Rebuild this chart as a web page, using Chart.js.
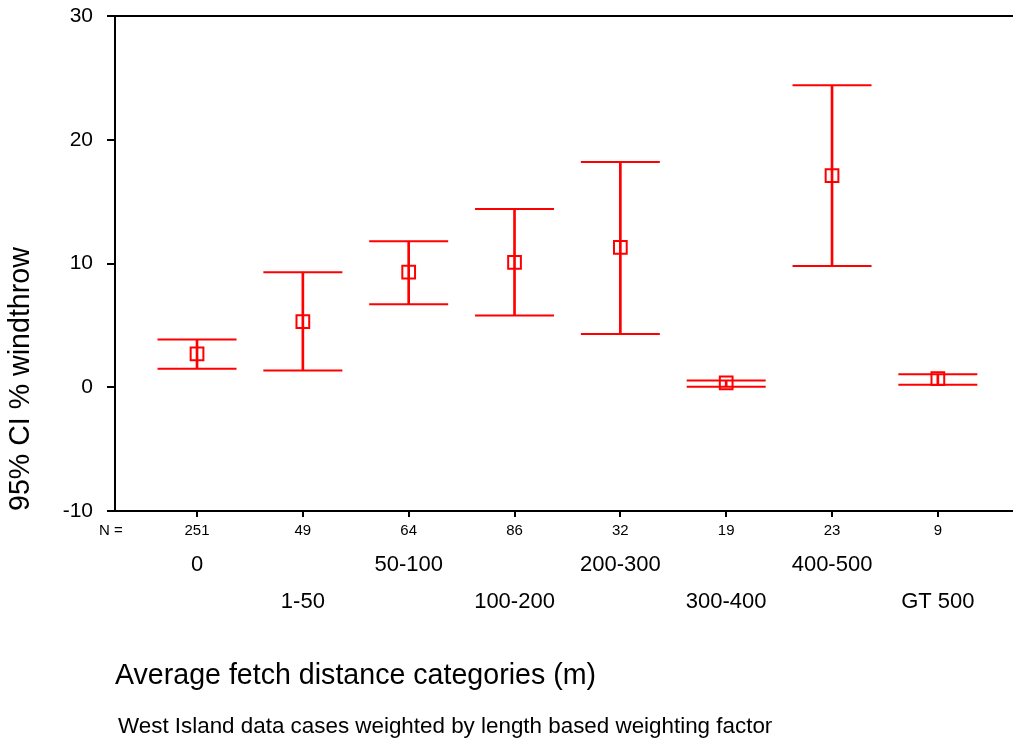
<!DOCTYPE html>
<html>
<head>
<meta charset="utf-8">
<title>95% CI % windthrow by fetch distance</title>
<script src="https://cdn.jsdelivr.net/npm/chart.js@4.4.1/dist/chart.umd.min.js"></script>
<style>
  html, body { margin: 0; padding: 0; background: #fff; }
  canvas { display: block; }
</style>
</head>
<body>
<canvas id="ci-chart" width="1013" height="747"></canvas>
<script>
// fetch distance groups, case counts and 95% CI of windthrow %
const categories = ['0', '1-50', '50-100', '100-200', '200-300', '300-400', '400-500', 'GT 500'];
const caseCounts = [251, 49, 64, 86, 32, 19, 23, 9];
const meanValues = [2.7, 5.3, 9.3, 10.1, 11.3, 0.35, 17.1, 0.7];
const lowerCI = [1.5, 1.35, 6.7, 5.8, 4.3, 0.05, 9.8, 0.2];
const upperCI = [3.85, 9.3, 11.8, 14.4, 18.2, 0.55, 24.4, 1.05];
const yTicks = [-10, 0, 10, 20, 30];
const footnote = 'West Island data cases weighted by length based weighting factor';

const FONT = '"Liberation Sans", Arial, sans-serif';
const RED = '#ff0000';
const X_MIN = -0.775;
const X_MAX = 7.71;

Chart.defaults.font.family = FONT;
Chart.defaults.color = '#000';

// fixed box sizes, no extra room for overhanging tick labels
function fixBox(size) {
  return (s) => {
    if (s.isHorizontal()) s.height = size; else s.width = size;
    s.paddingLeft = 0;
    s.paddingRight = 0;
    s.paddingTop = 0;
    s.paddingBottom = 0;
  };
}

// category names in two staggered rows under the N counts, plus the note
const categoryRows = {
  id: 'categoryRows',
  afterDraw(chart) {
    const { ctx } = chart;
    const xs = chart.scales.x;
    const base = xs.top;
    ctx.save();
    ctx.fillStyle = '#000';
    ctx.textBaseline = 'middle';
    ctx.textAlign = 'center';
    ctx.font = '15px ' + FONT;
    ctx.fillText('N =', xs.left - 4, base + 20);
    ctx.font = '22px ' + FONT;
    categories.forEach((label, i) => {
      const row = i % 2 === 0 ? 54 : 91;
      ctx.fillText(label, xs.getPixelForValue(i), base + row);
    });
    ctx.textAlign = 'left';
    ctx.font = '22.4px ' + FONT;
    ctx.fillText(footnote, 118, base + 216);
    ctx.restore();
  }
};

const idx = categories.map((_, i) => i);

new Chart(document.getElementById('ci-chart'), {
  type: 'scatter',
  data: {
    datasets: [
      {
        label: 'Mean',
        data: idx.map((i) => ({ x: i, y: meanValues[i] })),
        pointStyle: 'rect',
        pointRadius: 9,
        borderColor: RED,
        backgroundColor: 'rgba(0,0,0,0)',
        borderWidth: 2,
      },
      {
        label: 'CI limits',
        data: idx.map((i) => ({ x: i, y: lowerCI[i] })).concat(idx.map((i) => ({ x: i, y: upperCI[i] }))),
        pointStyle: 'line',
        pointRadius: 39.5,
        borderColor: RED,
        borderWidth: 2,
      },
      {
        type: 'bar',
        label: '95% CI',
        data: idx.map((i) => ({ x: i, y: [lowerCI[i], upperCI[i]] })),
        backgroundColor: RED,
        borderWidth: 0,
        barThickness: 2,
      },
    ],
  },
  options: {
    responsive: false,
    animation: false,
    events: [],
    layout: { padding: 0, autoPadding: false },
    plugins: { legend: { display: false }, tooltip: { enabled: false } },
    scales: {
      x: {
        type: 'linear',
        position: 'bottom',
        min: X_MIN,
        max: X_MAX,
        offset: false,
        afterBuildTicks: (s) => { s.ticks = idx.map((v) => ({ value: v })); },
        afterFit: fixBox(236),
        grid: { display: true, offset: false, drawOnChartArea: false, drawTicks: true, tickLength: 6, color: '#000', lineWidth: 2 },
        border: { display: true, color: '#000', width: 2 },
        ticks: {
          font: { size: 15 },
          padding: 5,
          maxRotation: 0,
          autoSkip: false,
          callback: (v) => caseCounts[v],
        },
        title: {
          display: true,
          text: 'Average fetch distance categories (m)',
          align: 'start',
          font: { size: 28.6 },
          padding: { top: 0, bottom: 54 },
        },
      },
      top: {
        type: 'linear',
        axis: 'x',
        position: 'top',
        min: X_MIN,
        max: X_MAX,
        offset: false,
        display: true,
        afterFit: fixBox(16),
        grid: { display: false, offset: false },
        ticks: { display: false },
        border: { display: true, color: '#000', width: 2 },
      },
      y: {
        type: 'linear',
        position: 'left',
        min: -10,
        max: 30,
        afterBuildTicks: (s) => { s.ticks = yTicks.map((v) => ({ value: v })); },
        afterFit: fixBox(115),
        grid: { display: true, drawOnChartArea: false, drawTicks: true, tickLength: 8, color: '#000', lineWidth: 2 },
        border: { display: true, color: '#000', width: 2 },
        ticks: { font: { size: 21 }, padding: 14 },
        title: {
          display: true,
          text: '95% CI % windthrow',
          align: 'start',
          font: { size: 28.6 },
          padding: { top: 4, bottom: 0 },
        },
      },
    },
  },
  plugins: [categoryRows],
});
</script>
</body>
</html>
